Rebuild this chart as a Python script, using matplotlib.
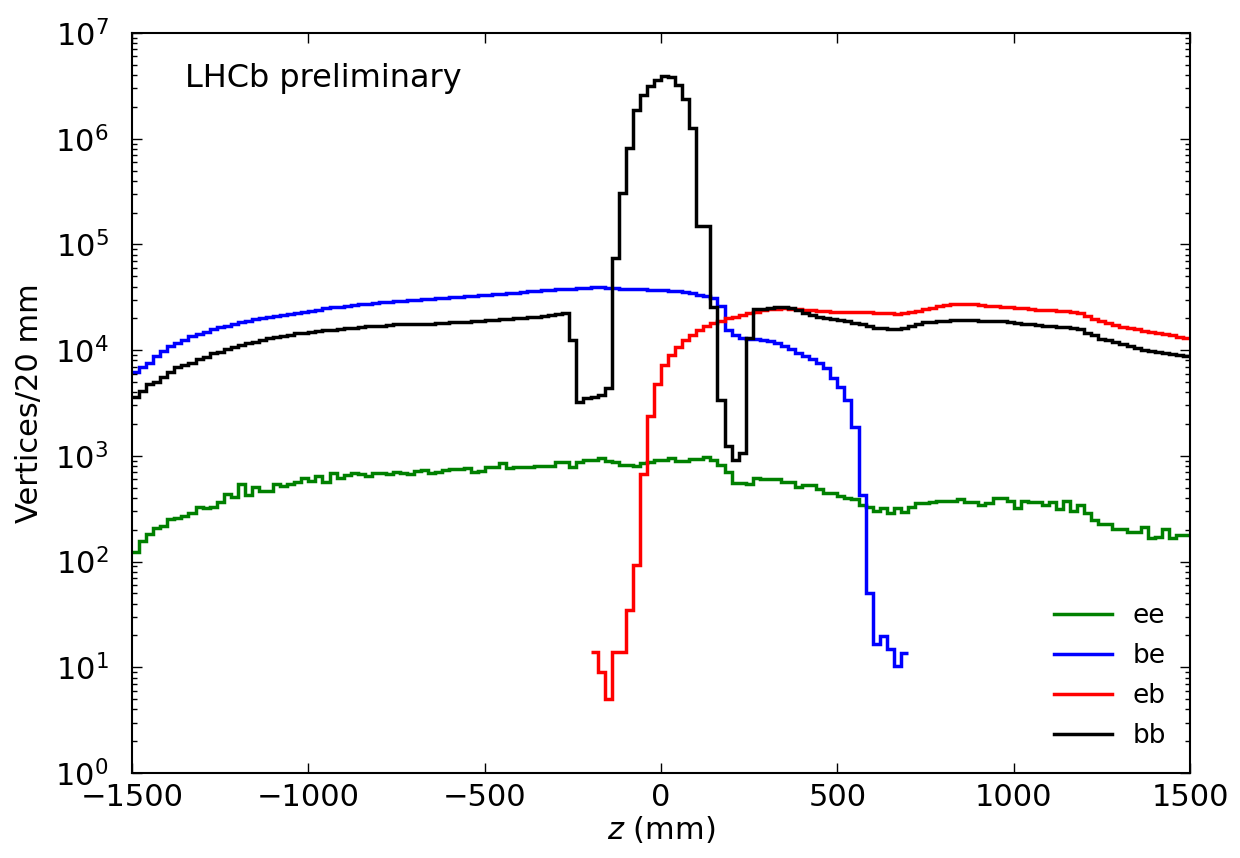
import numpy as np
import matplotlib
matplotlib.use("Agg")
import matplotlib.pyplot as plt
from matplotlib.ticker import LogLocator, NullFormatter, MultipleLocator

# histogram binning (mm)
bin_width = 20
z_min, z_max = -1500, 1500

# ee: full range -1500..1500
ee_start = -1500
ee_counts = [
    124, 158, 181, 206, 217, 251, 257, 272, 286, 331, 319, 326, 369, 437, 411, 542, 427, 511, 469, 469,
    542, 523, 539, 562, 614, 579, 646, 570, 684, 614, 660, 684, 674, 646, 684, 684, 670, 700,
    690, 680, 720, 740, 690, 700, 735, 750, 750, 760, 710, 720, 790, 790, 860, 770, 790, 790, 790,
    800, 810, 810, 880,
    880, 785, 870, 915, 915, 950, 900, 880, 820, 820, 810, 862, 880, 915, 915, 950, 900, 900, 940,
    940, 970, 915, 820, 708, 550, 550, 545, 620,
    600, 600, 600, 570, 570, 505, 530, 530, 483, 449, 449, 417, 400, 389, 343, 326, 301, 324, 290,
    324, 297, 331, 356, 356,
    365, 378, 372, 378, 389, 365, 365, 343, 355, 403, 403, 370, 319, 370, 365, 365, 343, 365, 312,
    370, 303, 343, 290, 248, 227, 227, 202, 202, 192, 192, 214, 166, 170, 202, 166, 179, 179,
]

# be: -1500..700
be_start = -1500
be_counts = [
    6200, 7000, 7600, 8800, 9900, 11000, 11700, 12600, 13500, 14300, 15000, 15800, 16500, 17000,
    17700, 18300, 19000, 19500, 20000, 20500, 21000, 21600, 22000, 22600, 23200, 23700, 24200,
    24800, 25400, 25800, 26300, 26700, 27200, 27500, 28000, 28400, 28800, 29100,
    29300, 29600, 30000, 30300, 30600, 31000, 31300, 31700, 32000, 32400, 32800, 33100, 33500,
    33900, 34300, 34700, 35100, 35500, 35900, 36300, 36700, 37100, 37500, 37900, 38300, 38700,
    39100, 39500, 39800, 39000, 38500, 38200, 37900, 37700, 37500, 37300, 37100, 37000, 36500,
    36000, 35300, 34500, 33500, 32500, 31400, 26000, 15500, 14000, 13000, 12800, 12700, 12500,
    12200, 11800, 11000, 10300, 9500, 8800, 8300, 7500, 6800, 5400, 4500, 3400, 1870, 427, 50,
    16.6, 19.8, 14.9, 10.3, 13.6,
]

# eb: -200..1500
eb_start = -200
eb_counts = [
    14, 9, 5, 14, 14, 35, 93, 680, 2400, 4800, 7200, 8900, 10700, 12500, 13900, 15500, 17000,
    18200, 19000, 20000, 20800, 21500, 22500, 23200,
    23800, 24300, 24700, 24900, 24700, 24300, 24000, 23800, 23600, 23400, 23200, 23200, 23000,
    23100, 23000, 22800, 22600, 22400, 22300, 22200, 22400, 23100, 23700, 24400, 25200, 26200,
    26800, 27300, 27400, 27400, 27200, 26800, 26400, 26100, 25800, 25500, 25100, 24800, 24500,
    24200, 24000, 23800, 23600, 23400, 23000, 22600, 21000, 19800, 18700, 18000, 17300, 16700,
    16200, 15700, 15300, 14900, 14500, 14200, 13800, 13400, 13100,
]

# bb: full range -1500..1500
bb_start = -1500
bb_counts = [
    3600, 4100, 4800, 5000, 5600, 6200, 6900, 7300, 7600, 8300, 8600, 9300, 9600, 10200, 10600,
    11300, 11600, 12000, 12500, 13000, 13300, 13700, 14000, 14500, 14600, 14800, 15300, 15500,
    15600, 15900, 16200, 16300, 16600, 16800, 17000, 17100, 17300, 17500,
    17500, 17600, 17700, 17800, 17800, 18000, 18200, 18300, 18500, 18600, 18800, 19000, 19100,
    19300, 19500, 19700, 20000, 20300, 20500, 20800, 21200, 21600, 22000, 22300,
    12600, 3200, 3500, 3600, 3800, 4400,
    74500, 307000, 820000, 1870000, 2600000, 3160000, 3600000, 3900000, 3800000, 3200000,
    2400000, 1260000, 150000, 150000, 25800, 3400, 1230, 910, 1060, 13000, 24500,
    24500, 25000, 25500, 25500, 24800, 24000, 22500, 21500, 20700, 20000, 19600, 19300, 18800,
    18000, 17500, 16800, 16300, 16100, 16000, 16000, 16300, 17000, 17700, 18300, 18600, 18800,
    19000, 19200, 19300, 19200, 19100, 19000, 18900, 18900, 18700, 18400, 18100, 17800, 17500,
    17300, 17100, 16900, 16700, 16400, 16100, 15800, 14600, 13800, 12800, 12400, 11900, 11500,
    11000, 10400, 10100, 9900, 9700, 9500, 9200, 9000, 8800,
]

series = [
    ("ee", ee_start, ee_counts, "#008000"),
    ("be", be_start, be_counts, "#0000ff"),
    ("eb", eb_start, eb_counts, "#ff0000"),
    ("bb", bb_start, bb_counts, "#000000"),
]

fig = plt.figure(figsize=(12.4, 8.58), dpi=100)
ax = fig.add_axes([0.1065, 0.0991, 0.8532, 0.8624])

for label, start, counts, color in series:
    edges = start + bin_width * np.arange(len(counts) + 1)
    ax.stairs(counts, edges, baseline=None, color=color, lw=2.5, label=label)

ax.set_yscale("log")
ax.set_xlim(z_min, z_max)
ax.set_ylim(1, 1e7)
ax.xaxis.set_major_locator(MultipleLocator(500))
ax.yaxis.set_major_locator(LogLocator(base=10, numticks=10))
ax.yaxis.set_minor_locator(LogLocator(base=10, subs=np.arange(2, 10), numticks=10))
ax.yaxis.set_minor_formatter(NullFormatter())

ax.tick_params(which="both", direction="in", top=True, right=True, labelsize=22)
ax.tick_params(which="major", length=7, width=1)
ax.tick_params(which="minor", length=3.5, width=1)
ax.tick_params(axis="x", pad=7)
ax.tick_params(axis="y", pad=17)
for sp in ax.spines.values():
    sp.set_linewidth(1.5)

ax.set_xlabel("$z$ (mm)", fontsize=22, labelpad=2)
ax.set_ylabel("Vertices/20 mm", fontsize=22, labelpad=8)
ax.text(0.05, 0.938, "LHCb preliminary", transform=ax.transAxes, fontsize=23,
        va="center", ha="left")

ax.legend(loc="lower right", frameon=False, fontsize=19, handlelength=2.2,
          labelspacing=0.53, borderaxespad=0.5)

fig.savefig("out.png", dpi=100)
